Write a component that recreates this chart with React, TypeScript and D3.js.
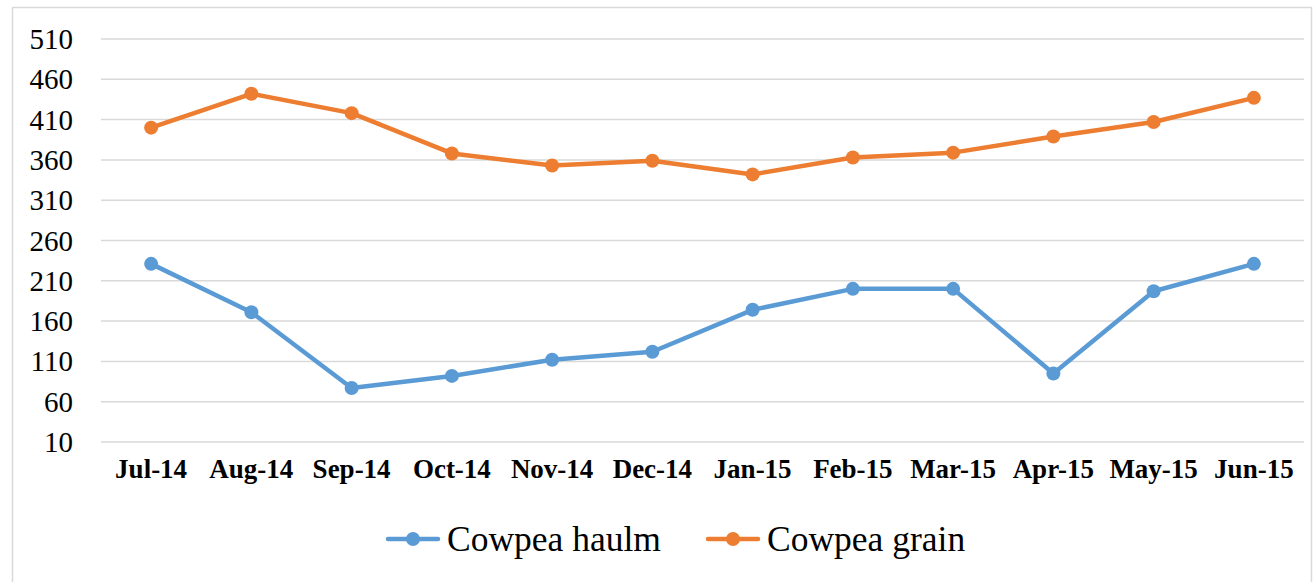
import { useEffect, useRef } from 'react'
import * as d3 from 'd3'

const months = ['Jul-14', 'Aug-14', 'Sep-14', 'Oct-14', 'Nov-14', 'Dec-14', 'Jan-15', 'Feb-15', 'Mar-15', 'Apr-15', 'May-15', 'Jun-15']
const haulm = [231, 171, 77, 92, 112, 122, 174, 200, 200, 95, 197, 231]
const grain = [400, 442, 418, 368, 353, 359, 342, 363, 369, 389, 407, 437]
const yTicks = [10, 60, 110, 160, 210, 260, 310, 360, 410, 460, 510]

const series = [
  { name: 'Cowpea haulm', values: haulm, color: '#5b9bd5' },
  { name: 'Cowpea grain', values: grain, color: '#ed7d31' },
]

export default function App() {
  const svgRef = useRef<SVGSVGElement>(null)

  useEffect(() => {
    if (!svgRef.current) return
    const svg = d3.select(svgRef.current)
    svg.selectAll('*').remove()

    const W = 1314
    const H = 582
    const font = '"Liberation Serif", "Times New Roman", serif'

    svg.attr('width', W).attr('height', H)

    // chart frame
    svg.append('rect').attr('x', 0).attr('y', 0).attr('width', W).attr('height', H).attr('fill', '#fff')
    svg.append('rect').attr('x', 12.5).attr('y', 7.5).attr('width', 1299).attr('height', 590)
      .attr('fill', 'none').attr('stroke', '#d9d9d9').attr('stroke-width', 1.5)

    const x = d3.scaleBand<string>().domain(months).range([101, 1304])
    const y = d3.scaleLinear().domain([10, 510]).range([442, 39])

    // gridlines
    svg.append('g').selectAll('line').data(yTicks).enter().append('line')
      .attr('x1', 101).attr('x2', 1304)
      .attr('y1', d => y(d)).attr('y2', d => y(d))
      .attr('stroke', '#d9d9d9').attr('stroke-width', 1.5)

    // y labels
    svg.append('g').selectAll('text').data(yTicks).enter().append('text')
      .attr('x', 73).attr('y', d => y(d) + 10)
      .attr('text-anchor', 'end')
      .style('font-family', font).style('font-size', '29px').style('fill', '#000')
      .text(d => d)

    // x labels
    svg.append('g').selectAll('text').data(months).enter().append('text')
      .attr('x', d => (x(d) as number) + x.bandwidth() / 2).attr('y', 478)
      .attr('text-anchor', 'middle')
      .style('font-family', font).style('font-size', '27px').style('font-weight', 'bold').style('fill', '#000')
      .text(d => d)

    const cx = (i: number) => (x(months[i]) as number) + x.bandwidth() / 2
    const line = d3.line<number>().x((_, i) => cx(i)).y(d => y(d))

    series.forEach(s => {
      svg.append('path').datum(s.values)
        .attr('fill', 'none').attr('stroke', s.color).attr('stroke-width', 4.5)
        .attr('stroke-linejoin', 'round').attr('d', line)
      svg.append('g').selectAll('circle').data(s.values).enter().append('circle')
        .attr('cx', (_, i) => cx(i)).attr('cy', d => y(d))
        .attr('r', 7).attr('fill', s.color)
    })

    // legend
    const legendX = [388, 708]
    series.forEach((s, i) => {
      const g = svg.append('g').attr('transform', `translate(${legendX[i]}, 539)`)
      g.append('line').attr('x1', 0).attr('x2', 50).attr('y1', 0).attr('y2', 0)
        .attr('stroke', s.color).attr('stroke-width', 4.5).attr('stroke-linecap', 'round')
      g.append('circle').attr('cx', 25).attr('cy', 0).attr('r', 7).attr('fill', s.color)
      g.append('text').attr('x', 59).attr('y', 12)
        .style('font-family', font).style('font-size', '35.5px').style('fill', '#000')
        .text(s.name)
    })
  }, [])

  return (
    <div style={{ position: 'absolute', left: 0, top: 0 }}>
      <svg ref={svgRef} style={{ display: 'block' }} />
    </div>
  )
}
